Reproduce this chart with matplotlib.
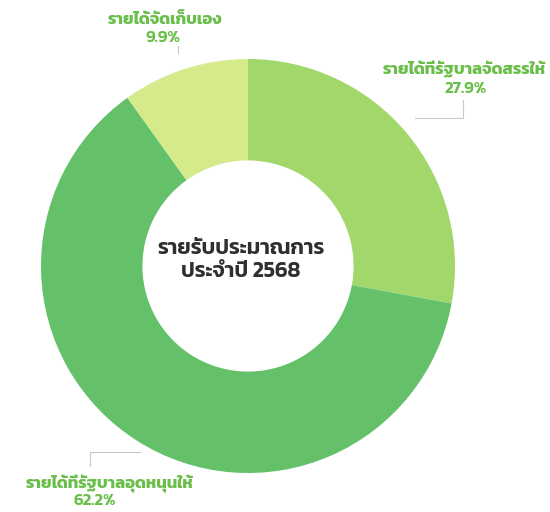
import matplotlib
matplotlib.use('Agg')
import matplotlib.pyplot as plt

# data
labels = ['รายได้ที่รัฐบาลจัดสรรให้', 'รายได้ที่รัฐบาลอุดหนุนให้', 'รายได้จัดเก็บเอง']
values = [27.9, 62.2, 9.9]
colors = ['#a2d76b', '#64c16a', '#d5eb8b']
center_title = 'รายรับประมาณการ\nประจำปี 2568'

# label positions in pixels (x, y from top) of the reference: name line, value line
name_pos = [(464, 69), (110, 483), (165, 20)]
value_pos = [(466, 89), (95, 501), (163, 38)]

plt.rcParams['font.family'] = ['Kanit', 'DejaVu Sans']

W, H = 550, 512
fig = plt.figure(figsize=(W / 100, H / 100), dpi=100)

cx, cy, r = 248, 266, 207
ax = fig.add_axes([(cx - r) / W, (H - cy - r) / H, 2 * r / W, 2 * r / H])
ax.pie(values, colors=colors, startangle=90, counterclock=False, radius=1.0,
       wedgeprops=dict(width=0.49, linewidth=0))
ax.set_xlim(-1, 1)
ax.set_ylim(-1, 1)
ax.set_aspect('equal')
ax.axis('off')

ax.text(-0.035, 0.03, center_title, ha='center', va='center', fontsize=15.5,
        fontweight='semibold', color='#2f2f33', linespacing=1.3)

for lab, v, (nx, ny), (vx, vy) in zip(labels, values, name_pos, value_pos):
    fig.text(nx / W, 1 - ny / H, lab, ha='center', va='center',
             fontsize=12, fontweight='bold', color='#6abf4b')
    fig.text(vx / W, 1 - vy / H, f'{v}%', ha='center', va='center',
             fontsize=12, fontweight='semibold', color='#6abf4b')

# faint leader lines
line_kw = dict(color='#c8c8c8', linewidth=0.8, transform=fig.transFigure)
fig.add_artist(plt.Line2D([463 / W, 463 / W, 415 / W], [1 - 100 / H, 1 - 118 / H, 1 - 118 / H], **line_kw))
fig.add_artist(plt.Line2D([90 / W, 90 / W, 140 / W], [1 - 466 / H, 1 - 452 / H, 1 - 452 / H], **line_kw))
fig.add_artist(plt.Line2D([178 / W, 178 / W], [1 - 46 / H, 1 - 53 / H], **line_kw))

fig.savefig('out.png')
